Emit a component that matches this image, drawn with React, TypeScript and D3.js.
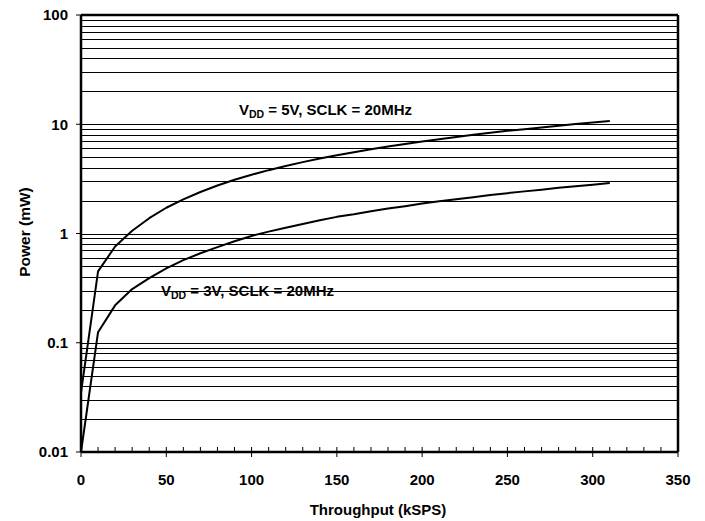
import React from "react";
import * as d3 from "d3";

const throughput = [0, 10, 20, 30, 40, 50, 60, 70, 80, 90, 100, 110, 120, 130, 140, 150, 160, 170, 180, 190, 200, 210, 220, 230, 240, 250, 260, 270, 280, 290, 300, 310];
const power5V = [0.035, 0.45, 0.76, 1.06, 1.38, 1.72, 2.05, 2.4, 2.75, 3.1, 3.45, 3.8, 4.15, 4.5, 4.85, 5.2, 5.55, 5.9, 6.25, 6.6, 6.95, 7.3, 7.65, 8.0, 8.35, 8.7, 9.0, 9.35, 9.7, 10.05, 10.4, 10.7];
const power3V = [0.01, 0.125, 0.22, 0.31, 0.39, 0.48, 0.57, 0.66, 0.75, 0.85, 0.95, 1.04, 1.13, 1.22, 1.32, 1.42, 1.5, 1.6, 1.69, 1.78, 1.88, 1.97, 2.06, 2.15, 2.25, 2.34, 2.43, 2.52, 2.62, 2.71, 2.8, 2.9];
const xTicks = [0, 50, 100, 150, 200, 250, 300, 350];
const yTicks = [0.01, 0.1, 1, 10, 100];
const yTickLabels = ["0.01", "0.1", "1", "10", "100"];

const W = 705;
const H = 521;
const L = 81, R = 678, T = 15, B = 452;
const FONT = "'Liberation Sans', Arial, sans-serif";

export default function App() {
  const x = d3.scaleLinear().domain([0, 350]).range([L, R]);
  const y = d3.scaleLog().domain([0.01, 100]).range([B, T]);

  const gridVals: number[] = [];
  for (let e = -2; e < 2; e++) {
    for (let m = 1; m <= 9; m++) {
      const v = m * Math.pow(10, e);
      if (v > 0.01) gridVals.push(v);
    }
  }
  const minorX = d3.range(0, 351, 10).filter((v) => v % 50 !== 0);

  const line = d3
    .line<number>()
    .x((_, i) => x(throughput[i]))
    .y((d) => y(d));

  const label = (text: string, px: number, py: number) => (
    <text x={px} y={py} fontFamily={FONT} fontWeight="bold" fontSize={15} fill="#000">
      V<tspan fontSize={10.5} dy={3}>DD</tspan>
      <tspan dy={-3}>{text}</tspan>
    </text>
  );

  return (
    <svg width={W} height={H} style={{ position: "absolute", left: 0, top: 0, background: "#fff" }}>
      <rect x={0} y={0} width={W} height={H} fill="#fff" />
      {gridVals.map((v) => (
        <line key={v} x1={L} x2={R} y1={Math.round(y(v)) + 0.5} y2={Math.round(y(v)) + 0.5} stroke="#000" strokeWidth={1} shapeRendering="crispEdges" />
      ))}
      <line x1={L} x2={R} y1={T} y2={T} stroke="#000" strokeWidth={2.5} />
      <line x1={L} x2={R} y1={B} y2={B} stroke="#000" strokeWidth={2.5} />
      <line x1={L} x2={L} y1={T} y2={B} stroke="#000" strokeWidth={2.5} />
      <line x1={R} x2={R} y1={T} y2={B} stroke="#000" strokeWidth={2.5} />
      {yTicks.map((v, i) => (
        <g key={v}>
          <line x1={L - 5} x2={L} y1={y(v)} y2={y(v)} stroke="#000" strokeWidth={1} />
          <text x={68} y={y(v)} dy="0.36em" textAnchor="end" fontFamily={FONT} fontWeight="bold" fontSize={15}>
            {yTickLabels[i]}
          </text>
        </g>
      ))}
      {xTicks.map((v) => (
        <g key={v}>
          <line x1={x(v)} x2={x(v)} y1={v === 0 || v === 350 ? B : B - 5} y2={B + 5} stroke="#000" strokeWidth={1} />
          <text x={x(v)} y={484.5} textAnchor="middle" fontFamily={FONT} fontWeight="bold" fontSize={15}>
            {v}
          </text>
        </g>
      ))}
      {minorX.map((v) => (
        <line key={v} x1={x(v)} x2={x(v)} y1={B - 5} y2={B} stroke="#000" strokeWidth={1} />
      ))}
      <path d={line(power5V) || ""} fill="none" stroke="#000" strokeWidth={2} strokeLinejoin="round" />
      <path d={line(power3V) || ""} fill="none" stroke="#000" strokeWidth={2} strokeLinejoin="round" />
      {label(" = 5V, SCLK = 20MHz", 239, 115)}
      {label(" = 3V, SCLK = 20MHz", 161, 296)}
      <text x={378} y={515} textAnchor="middle" fontFamily={FONT} fontWeight="bold" fontSize={15}>
        Throughput (kSPS)
      </text>
      <text transform={`translate(30,232) rotate(-90)`} textAnchor="middle" fontFamily={FONT} fontWeight="bold" fontSize={15.5}>
        Power (mW)
      </text>
    </svg>
  );
}
